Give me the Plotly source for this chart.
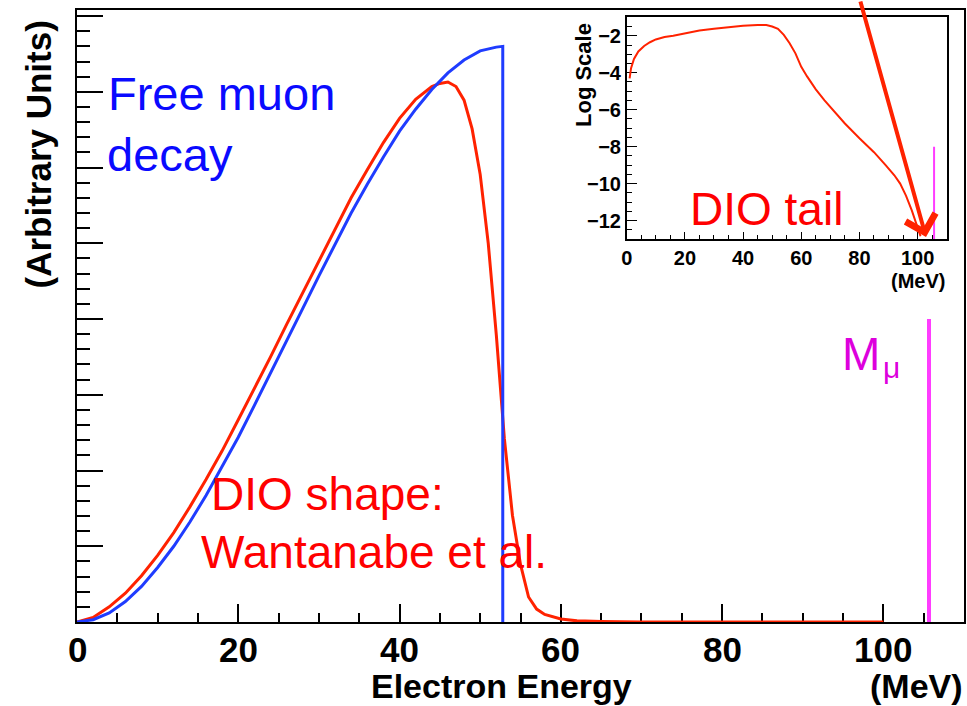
import plotly.graph_objects as go

# ---------------- data ----------------
# Free muon decay (Michel spectrum), linear arbitrary units
free_E = [0, 2, 4, 6, 8, 10, 12, 14, 16, 18, 20, 22, 24, 26, 28, 30, 32, 34, 36,
          38, 40, 42, 44, 46, 48, 50, 52, 52.8, 52.8]
free_V = [0, 0.03, 0.12, 0.27, 0.47, 0.72, 1.00, 1.32, 1.67, 2.05, 2.44, 2.86, 3.28,
          3.71, 4.14, 4.57, 4.99, 5.40, 5.78, 6.14, 6.48, 6.77, 7.03, 7.25, 7.42,
          7.54, 7.59, 7.60, 0]

# DIO shape (Watanabe et al.), linear arbitrary units
dio_E = [0, 2, 4, 6, 8, 10, 12, 14, 16, 18, 20, 22, 24, 26, 28, 30, 32, 34, 36, 38,
         40, 42, 44, 45, 46, 47, 48, 49, 50, 51, 52, 53, 54, 55, 56, 57, 58, 60, 62,
         65, 70, 80, 90, 100]
dio_V = [0, 0.06, 0.20, 0.38, 0.61, 0.88, 1.18, 1.52, 1.88, 2.26, 2.67, 3.08, 3.50,
         3.93, 4.35, 4.78, 5.19, 5.60, 5.97, 6.33, 6.65, 6.90, 7.07, 7.11, 7.13, 7.07,
         6.89, 6.51, 5.91, 5.00, 3.79, 2.42, 1.41, 0.76, 0.33, 0.17, 0.10, 0.04, 0.015,
         0.005, 0.0, 0.0, 0.0, 0.0]

# DIO tail, log10 scale (inset)
tail_E = [1.0, 1.5, 2.5, 4, 6, 8, 10, 13, 16, 20, 25, 30, 35, 40, 45, 48, 50, 52, 54,
          56, 58, 60, 62, 65, 68, 71, 75, 80, 85, 89, 92, 94, 96, 98, 100, 101]
tail_V = [-4.3, -3.75, -3.25, -2.85, -2.55, -2.35, -2.2, -2.07, -2.0, -1.86, -1.72,
          -1.62, -1.53, -1.46, -1.42, -1.42, -1.5, -1.62, -1.95, -2.4, -2.95, -3.68,
          -4.2, -4.9, -5.5, -6.05, -6.75, -7.55, -8.3, -9.0, -9.55, -10.0, -10.65,
          -11.45, -12.35, -12.85]

# Muon mass marker
mmu_E = [105.66, 105.66]
mmu_main = [0, 4.0]
mmu_inset = [-8, -13]

x_ticks = [0, 20, 40, 60, 80, 100]
x_tick_labels = ["0", "20", "40", "60", "80", "100"]
inset_y_ticks = [-12, -10, -8, -6, -4, -2]

# ---------------- styling / layout helpers ----------------
W, H = 967, 706
L, R, T, B = 77, 3, 10, 84
PW, PH = W - L - R, H - T - B


def px(x):
    return (x - L) / PW


def py(y):
    return (H - B - y) / PH


RED = "#ff2200"
BLUE = "#1f3cff"
MAG = "#ff3cff"
FONT = "Liberation Sans, Arial, Helvetica, sans-serif"

fig = go.Figure()

# main plot traces
fig.add_trace(go.Scatter(x=dio_E, y=dio_V, mode="lines",
                         line=dict(color=RED, width=3), hoverinfo="skip"))
fig.add_trace(go.Scatter(x=free_E, y=free_V, mode="lines",
                         line=dict(color=BLUE, width=3), hoverinfo="skip"))
fig.add_trace(go.Scatter(x=mmu_E, y=mmu_main, mode="lines",
                         line=dict(color=MAG, width=4), hoverinfo="skip"))

# inset traces
fig.add_trace(go.Scatter(x=tail_E, y=tail_V, mode="lines", xaxis="x2", yaxis="y2",
                         line=dict(color=RED, width=2), hoverinfo="skip"))
fig.add_trace(go.Scatter(x=mmu_E, y=mmu_inset, mode="lines", xaxis="x2", yaxis="y2",
                         line=dict(color=MAG, width=2), hoverinfo="skip"))

axis_common = dict(showline=True, linecolor="black", mirror=True, showgrid=False,
                   zeroline=False, ticks="inside", tickcolor="black",
                   layer="below traces", automargin=False)

fig.update_layout(
    width=W, height=H,
    margin=dict(l=L, r=R, t=T, b=B),
    paper_bgcolor="white", plot_bgcolor="white",
    showlegend=False,
    xaxis=dict(**axis_common, domain=[0, 1], range=[0, 110], linewidth=2,
               tickvals=x_ticks, ticklen=18, tickwidth=1.5, showticklabels=False,
               minor=dict(ticks="inside", dtick=5, tick0=0, ticklen=9,
                          tickcolor="black", tickwidth=1.5)),
    yaxis=dict(**axis_common, domain=[0, 1], range=[0, 8.08], linewidth=2,
               dtick=1, tick0=0, ticklen=26, tickwidth=1.5, showticklabels=False,
               minor=dict(ticks="inside", dtick=0.2, tick0=0, ticklen=13,
                          tickcolor="black", tickwidth=1.5)),
    xaxis2=dict(**axis_common, domain=[px(626.7), px(946.7)], anchor="y2",
                range=[0, 110], linewidth=1.5, tickvals=x_ticks, ticklen=7,
                tickwidth=1,
                minor=dict(ticks="inside", dtick=5, tick0=0, ticklen=4,
                           tickcolor="black", tickwidth=1),
                tickfont=dict(family=FONT, size=20, color="black", weight="bold")),
    yaxis2=dict(**axis_common, domain=[py(239), py(17.3)], anchor="x2",
                range=[-13, -1], linewidth=1.5, tickvals=inset_y_ticks, ticklen=11,
                tickwidth=1,
                minor=dict(ticks="inside", dtick=0.5, tick0=0, ticklen=6,
                           tickcolor="black", tickwidth=1),
                tickfont=dict(family=FONT, size=20, color="black", weight="bold")),
)


def note(text, x, y, size, color, xanchor="left", yanchor="middle", angle=0,
         weight="normal"):
    fig.add_annotation(text=text, x=px(x), y=py(y), xref="paper", yref="paper",
                       xanchor=xanchor, yanchor=yanchor, showarrow=False,
                       textangle=angle,
                       font=dict(family=FONT, size=size, color=color, weight=weight))


# main x tick labels (placed at the axis values)
for v, lab in zip(x_ticks, x_tick_labels):
    fig.add_annotation(text=lab, x=v, xref="x", y=py(649.5), yref="paper",
                       xanchor="center", yanchor="middle", showarrow=False,
                       font=dict(family=FONT, size=35, color="black", weight="bold"))

# main labels
note("Free muon", 106, 93.5, 47, "#0a0aff")
note("decay", 105, 154, 47, "#0a0aff")
note("DIO shape:", 209, 494, 46, "#ff0000")
note("Wantanabe et al.", 199, 552, 46, "#ff0000")
note("M", 840, 354, 46, "#dd00dd")
note("μ", 881, 368, 30, "#dd00dd")
note("DIO tail", 688, 209, 46, "#ff0000")

# axis titles
note("Electron Energy", 501, 686, 34, "black", xanchor="center", weight="bold")
note("(MeV)", 965, 686, 34, "black", xanchor="right", weight="bold")
note("(Arbitrary Units)", 37.5, 155, 35, "black", xanchor="center", angle=-90,
     weight="bold")
note("Log Scale", 584, 75, 22, "black", xanchor="center", angle=-90, weight="bold")
note("(MeV)", 947, 281, 20, "black", xanchor="right", weight="bold")

# arrow pointing at the DIO tail end-point
fig.add_annotation(x=px(926), y=py(237), xref="paper", yref="paper", text="",
                   showarrow=True, ax=-66, ay=-247, arrowhead=4, arrowsize=1.5,
                   arrowwidth=4, arrowcolor=RED)

fig.write_html("out.html", config={"displayModeBar": False},
               post_script="document.body.style.margin='0px';"
                           "document.body.style.padding='0px';")
